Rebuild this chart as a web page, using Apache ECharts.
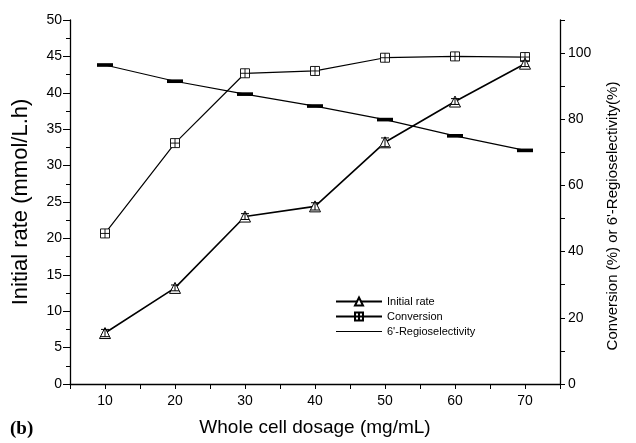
<!DOCTYPE html>
<html><head><meta charset="utf-8">
<script src="https://cdn.jsdelivr.net/npm/echarts@6/dist/echarts.min.js"></script>
<style>html,body{margin:0;padding:0;background:#fff}#c{width:636px;height:443px}</style>
</head><body><div id="c"></div>
<script>
const xValues = [10, 20, 30, 40, 50, 60, 70];
const initialRate = [7.0, 13.2, 23.0, 24.4, 33.2, 38.8, 44.0];
const initialRateErr = [0.5, 0.4, 0.4, 0.5, 0.6, 0.4, 0.4];
const conversion = [45.5, 72.8, 93.9, 94.6, 98.6, 99.0, 98.8];
const regioselectivity = [96.4, 91.5, 87.6, 84.0, 79.9, 75.0, 70.6];
const regioErr = [0.4, 0.4, 0.4, 0.4, 0.4, 0.4, 0.4];

const pairs = (ys) => xValues.map((x, i) => [x, ys[i]]);
const triples = (ys, es) => xValues.map((x, i) => [x, ys[i], es[i]]);
const FONT = 'Liberation Sans';
const squareCross = 'path://M0,0H10V10H0Z M5,0V10 M0,5H10';

const chart = echarts.init(document.getElementById('c'), null, {renderer: 'canvas'});
chart.setOption({
  animation: false,
  backgroundColor: '#fff',
  grid: {left: 70, right: 76, top: 20, bottom: 59},
  graphic: [{type: 'text', left: 10, top: 420, style: {text: '(b)', font: 'bold 19px "Liberation Serif"', fill: '#000'}}],
  legend: {
    orient: 'vertical', left: 330, top: 291, itemGap: 4, itemWidth: 46, itemHeight: 10,
    textStyle: {fontFamily: FONT, fontSize: 11, color: '#000'},
    data: ['Initial rate', 'Conversion',
      {name: "6'-Regioselectivity", icon: 'path://M0,0H46V1.2H0Z'}]
  },
  xAxis: {
    type: 'value', min: 5, max: 75, interval: 5,
    name: 'Whole cell dosage (mg/mL)', nameLocation: 'middle', nameGap: 34,
    nameTextStyle: {fontFamily: FONT, fontSize: 19, color: '#000'},
    axisLine: {lineStyle: {color: '#000', width: 1.3}},
    axisTick: {inside: false, length: 5, lineStyle: {color: '#000'}},
    axisLabel: {fontFamily: FONT, fontSize: 14, color: '#000', margin: 10,
      formatter: v => (v % 10 === 0 ? String(v) : '')},
    splitLine: {show: false}
  },
  yAxis: [{
    type: 'value', min: 0, max: 50, interval: 5, position: 'left',
    name: 'Initial rate (mmol/L.h)', nameLocation: 'middle', nameGap: 38, nameRotate: 90,
    nameTextStyle: {fontFamily: FONT, fontSize: 22, color: '#000'},
    axisLine: {show: true, lineStyle: {color: '#000', width: 1.3}},
    axisTick: {show: true, length: 7, lineStyle: {color: '#000'}},
    minorTick: {show: true, splitNumber: 2, length: 4, lineStyle: {color: '#000'}},
    axisLabel: {fontFamily: FONT, fontSize: 14, color: '#000', margin: 8},
    splitLine: {show: false}
  }, {
    type: 'value', min: 0, max: 110, interval: 10, position: 'right',
    name: "Conversion (%) or 6'-Regioselectivity(%)", nameLocation: 'middle', nameGap: 45, nameRotate: 90,
    nameTextStyle: {fontFamily: FONT, fontSize: 15, color: '#000', padding: [0, 28, 0, 0]},
    axisLine: {show: true, lineStyle: {color: '#000', width: 1.3}},
    axisTick: {show: true, length: 5, lineStyle: {color: '#000'}},
    axisLabel: {fontFamily: FONT, fontSize: 14, color: '#000', margin: 8,
      formatter: v => (v % 20 === 0 && v <= 100 ? String(v) : '')},
    splitLine: {show: false}
  }],
  series: [{
    name: "6'-Regioselectivity", type: 'line', yAxisIndex: 1, symbol: 'none',
    lineStyle: {color: '#000', width: 1.2}, itemStyle: {color: '#000'},
    data: pairs(regioselectivity), z: 2
  }, {
    name: 'Conversion', type: 'line', yAxisIndex: 1, symbol: squareCross, symbolSize: 9,
    lineStyle: {color: '#000', width: 1.2},
    itemStyle: {color: '#fff', borderColor: '#000', borderWidth: 0.9},
    data: pairs(conversion), z: 3
  }, {
    name: 'Initial rate', type: 'line', yAxisIndex: 0, symbol: 'triangle', symbolSize: 11,
    lineStyle: {color: '#000', width: 1.6},
    itemStyle: {color: '#fff', borderColor: '#000', borderWidth: 1},
    data: pairs(initialRate), z: 3
  }, {
    type: 'custom', yAxisIndex: 0, z: 4, silent: true,
    data: triples(initialRate, initialRateErr),
    renderItem: (params, api) => {
      const x = api.value(0), y = api.value(1), e = api.value(2);
      const top = api.coord([x, y + e]), bot = api.coord([x, y - e]);
      const st = {stroke: '#000', lineWidth: 1};
      return {type: 'group', children: [
        {type: 'line', shape: {x1: top[0], y1: top[1], x2: bot[0], y2: bot[1]}, style: st},
        {type: 'line', shape: {x1: top[0] - 4, y1: top[1], x2: top[0] + 4, y2: top[1]}, style: st},
        {type: 'line', shape: {x1: bot[0] - 4, y1: bot[1], x2: bot[0] + 4, y2: bot[1]}, style: st}
      ]};
    }
  }, {
    type: 'custom', yAxisIndex: 1, z: 4, silent: true,
    data: triples(regioselectivity, regioErr),
    renderItem: (params, api) => {
      const x = api.value(0), y = api.value(1), e = api.value(2);
      const top = api.coord([x, y + e]), bot = api.coord([x, y - e]);
      return {type: 'rect', shape: {x: top[0] - 8, y: top[1] - 0.5, width: 16, height: bot[1] - top[1] + 1},
        style: {fill: '#000'}};
    }
  }]
});
</script></body></html>
